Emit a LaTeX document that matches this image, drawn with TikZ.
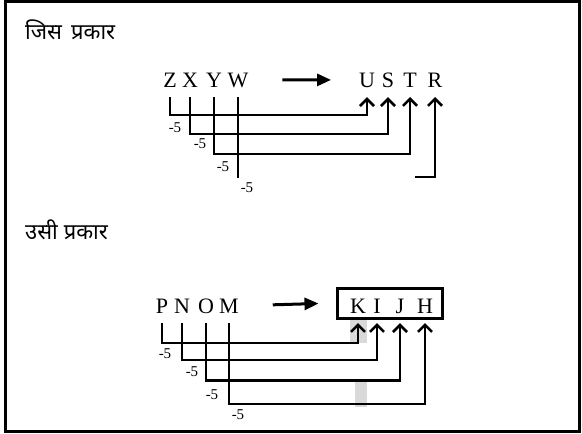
\documentclass[tikz,border=0pt]{standalone}
\usepackage{fontspec}
\setmainfont{Liberation Serif}
\newfontfamily\hindi[Script=Devanagari]{Noto Sans}
\usepackage{tikz}
\usetikzlibrary{arrows.meta,positioning}
\definecolor{lnink}{HTML}{000000}
\definecolor{lnshade}{HTML}{D9D9D9}
\tikzset{
  ltr/.style   ={font=\fontsize{22}{26}\selectfont, inner sep=0pt, outer xsep=0pt,
                 outer ysep=10pt, anchor=base, text=lnink},
  dlbl/.style  ={font=\fontsize{15}{17}\selectfont, inner sep=0pt, text=lnink},
  hdr/.style   ={font=\hindi\fontsize{22}{26}\selectfont, anchor=west, inner sep=0pt},
  link/.style  ={-{Straight Barb[length=7pt,width=14pt]}, line width=2.6pt, draw=lnink},
  stub/.style  ={line width=2.6pt, draw=lnink},
  flow/.style  ={-{Triangle[length=14pt,width=12pt]}, line width=3pt, draw=lnink},
  ansbox/.style={draw=lnink, line width=3pt, minimum width=105pt, minimum height=30pt,
                 inner sep=0pt},
  frame/.style ={draw=lnink, line width=3pt},
}

\begin{document}
\begin{tikzpicture}[x=1pt,y=-1pt]
  \useasboundingbox (0,0) rectangle (582,434);
  \draw[frame] (5.5,1.5) rectangle (579.5,431.5);
  % faint scan marks under K
  \fill[lnshade] (350,320) rectangle (367,343);
  \fill[lnshade] (355,382) rectangle (367,407);
  \node[hdr] (hdrA) at (25,30) {जिस\hspace{9pt}प्रकार};
  \node[hdr] (hdrB) at (25,230) {उसी\hspace{6pt}प्रकार};
  % first row
  \foreach \l/\x in {Z/170, X/190, Y/214, W/238}{\node[ltr] (l\l) at (\x,87) {\l};}
  \foreach \l/\x in {U/367, S/388, T/410, R/435}{\node[ltr] (l\l) at (\x,87) {\l};}
  \draw[flow, shorten <=34pt, shorten >=28pt] (lW.east) -- (lU.west);
  \foreach \a/\b/\d in {Z/U/18, X/S/37, Y/T/57}{
    \draw[link] (l\a.south) -- ++(0,\d) -| (l\b.south);}
  \coordinate (wend) at (415,177);
  \draw[stub] (lW.south) -- ++(0,81);
  \draw[link] (wend) -| (lR.south);
  \foreach \x/\y [count=\i] in {175/128, 200/144, 223/167, 247/188}{
    \node[dlbl] (up\i) at (\x,\y) {-5};}
  % second row
  \foreach \l/\x in {P/162, N/182, O/206, M/229}{\node[ltr] (l\l) at (\x,313) {\l};}
  \node[ansbox] (kbox) at (389.5,303) {};
  \foreach \l/\x in {K/358, I/377, J/400, H/425}{\node[ltr] (l\l) at (\x,313) {\l};}
  \draw[flow, shorten <=34pt, shorten >=17pt] (lM.east) -- (kbox.west);
  \foreach \a/\b/\d in {P/K/20, N/I/37, O/J/57, M/H/81}{
    \draw[link] (l\a.south) -- ++(0,\d) -| (l\b.south);}
  \foreach \x/\y [count=\i] in {165/354, 192/372, 212/395, 238/415}{
    \node[dlbl] (dn\i) at (\x,\y) {-5};}
\end{tikzpicture}
\end{document}
